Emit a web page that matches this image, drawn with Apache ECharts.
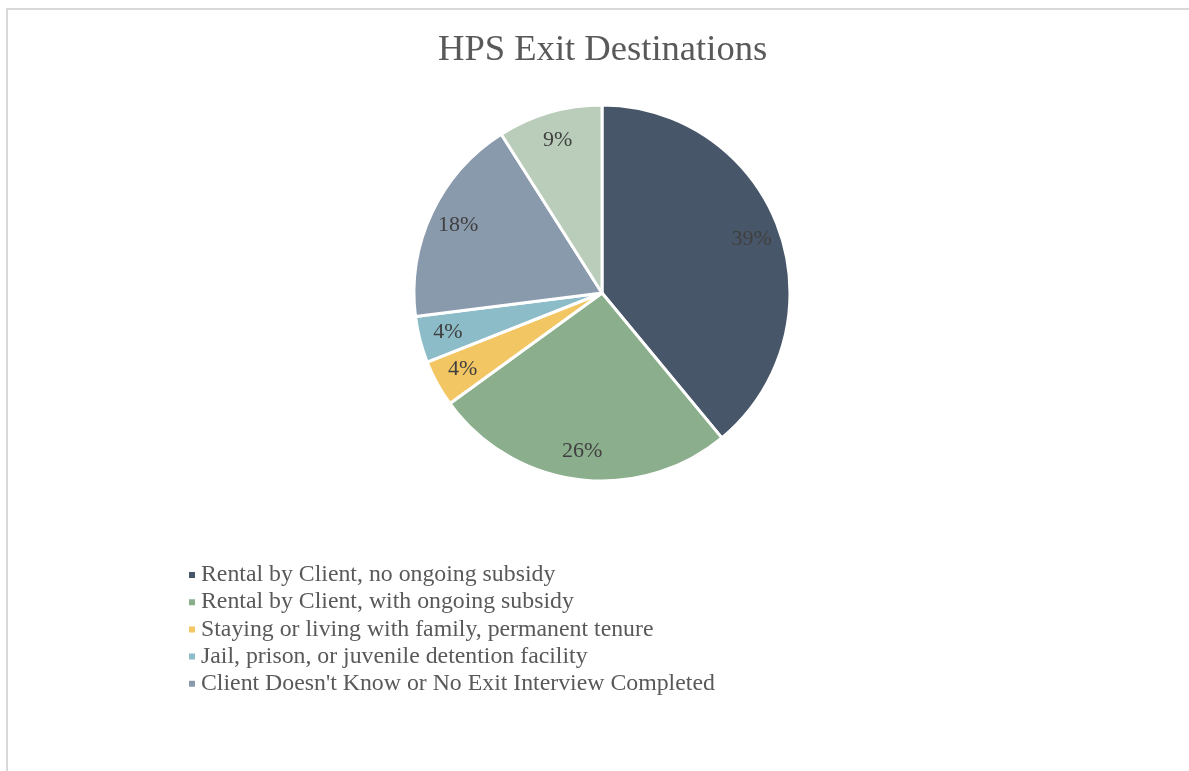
<!DOCTYPE html>
<html>
<head>
<meta charset="utf-8">
<script src="https://cdn.jsdelivr.net/npm/echarts@6/dist/echarts.min.js"></script>
<style>
  html, body { margin: 0; padding: 0; background: #fff; }
  #chart { width: 1189px; height: 771px; }
</style>
</head>
<body>
<div id="chart"></div>
<script>
// Exit destination categories and their share of exits (%)
const categories = [
  'Rental by Client, no ongoing subsidy',
  'Rental by Client, with ongoing subsidy',
  'Staying or living with family, permanent tenure',
  'Jail, prison, or juvenile detention facility',
  "Client Doesn't Know or No Exit Interview Completed",
  'Other'
];
const shares = [39, 26, 4, 4, 18, 9];
const colors = ['#475669', '#8bae8c', '#f2c663', '#8cbcc8', '#8a9aad', '#b9cdba'];
// Only the first five categories appear in the legend
const legendNames = categories.slice(0, 5);

const serif = '"Liberation Serif", "DejaVu Serif", serif';
const pieData = categories.map((name, i) => ({
  name,
  value: shares[i],
  itemStyle: { color: colors[i] }
}));

const chart = echarts.init(document.getElementById('chart'));
chart.setOption({
  animation: false,
  graphic: [{
    type: 'rect',
    shape: { x: 7, y: 9, width: 1300, height: 900 },
    style: { fill: 'none', stroke: '#d9d9d9', lineWidth: 2 },
    silent: true
  }],
  title: {
    text: 'HPS Exit Destinations',
    left: 433,
    top: 27,
    textStyle: { fontFamily: serif, fontWeight: 'normal', fontSize: 36.6, color: '#595959' }
  },
  legend: {
    data: legendNames,
    orient: 'vertical',
    left: 182,
    top: 558,
    itemWidth: 8,
    itemHeight: 8,
    itemGap: 3.2,
    icon: 'rect',
    textStyle: { fontFamily: serif, fontSize: 23.8, color: '#595959' }
  },
  series: [
    {
      type: 'pie',
      center: [602, 293],
      radius: 188,
      startAngle: 90,
      clockwise: true,
      data: pieData,
      label: { show: false },
      labelLine: { show: false },
      itemStyle: { borderColor: '#ffffff', borderWidth: 3 },
      emphasis: { disabled: true }
    },
    {
      // label ring: places value text at ~83% of the radius
      type: 'pie',
      center: [602, 293],
      radius: [124, 188],
      startAngle: 90,
      clockwise: true,
      silent: true,
      data: categories.map((name, i) => ({ name, value: shares[i] })),
      itemStyle: { color: 'rgba(0,0,0,0)', borderWidth: 0 },
      label: {
        show: true,
        position: 'inside',
        formatter: p => p.value + '%',
        fontFamily: serif,
        fontSize: 22,
        color: '#404040'
      },
      labelLine: { show: false },
      emphasis: { disabled: true }
    }
  ]
});
</script>
</body>
</html>
